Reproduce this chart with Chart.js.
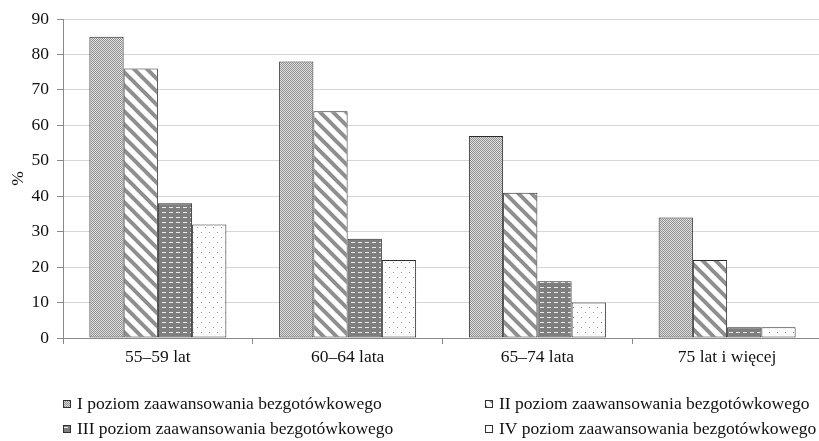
<!DOCTYPE html>
<html>
<head>
<meta charset="utf-8">
<script src="https://cdn.jsdelivr.net/npm/chart.js@4/dist/chart.umd.min.js"></script>
<style>
  html, body { margin: 0; padding: 0; background: #fff; overflow: hidden; width: 819px; height: 441px; }
  #wrap { position: absolute; left: 0; top: 0; width: 830px; height: 441px; }
  canvas { display: block; }
</style>
</head>
<body>
<div id="wrap"><canvas id="c" width="830" height="441"></canvas></div>
<script>
// Age groups on the category axis
const categories = ['55–59 lat', '60–64 lata', '65–74 lata', '75 lat i więcej'];

// Share of respondents (%) per level of cashless-payment adoption
const seriesNames = [
  'I poziom zaawansowania bezgotówkowego',
  'II poziom zaawansowania bezgotówkowego',
  'III poziom zaawansowania bezgotówkowego',
  'IV poziom zaawansowania bezgotówkowego'
];
const level1 = [85, 78, 57, 34];
const level2 = [76, 64, 41, 22];
const level3 = [38, 28, 16, 3];
const level4 = [32, 22, 10, 3];

// Value axis
const yMin = 0;
const yMax = 90;
const yStep = 10;
const yTitle = '%';

const FONT = "'Liberation Serif', 'Times New Roman', serif";
const FONT_SIZE = 17.5;
const TEXT = '#111';
const AXIS = '#8a8a8a';

// --- fill patterns -------------------------------------------------------
function tile(w, h, draw) {
  const c = document.createElement('canvas');
  c.width = w; c.height = h;
  const g = c.getContext('2d');
  draw(g, w, h);
  return document.getElementById('c').getContext('2d').createPattern(c, 'repeat');
}

// fine checker (light grey)
const patChecker = tile(2, 2, (g) => {
  g.fillStyle = '#e2e2e2'; g.fillRect(0, 0, 2, 2);
  g.fillStyle = '#8e8e8e'; g.fillRect(0, 0, 1, 1); g.fillRect(1, 1, 1, 1);
});

// wide diagonal stripes
const patStripes = tile(13, 13, (g, w, h) => {
  g.fillStyle = '#fff'; g.fillRect(0, 0, w, h);
  g.strokeStyle = '#8f8f8f'; g.lineWidth = 4; g.lineCap = 'square';
  for (let k = -1; k <= 1; k++) {
    g.beginPath();
    g.moveTo(-3 + k * 13, -3);
    g.lineTo(16 + k * 13, 16);
    g.stroke();
  }
});

// dark grey with light dashes
const patDashes = tile(7, 5, (g, w, h) => {
  g.fillStyle = '#7e7e7e'; g.fillRect(0, 0, w, h);
  g.fillStyle = '#ececec'; g.fillRect(1, 2, 4, 1);
});

// sparse staggered dots
const patDots = tile(8, 10, (g, w, h) => {
  g.fillStyle = '#fff'; g.fillRect(0, 0, w, h);
  g.fillStyle = '#8a8a8a';
  g.fillRect(1, 2, 1, 1);
  g.fillRect(5, 7, 1, 1);
});

const fills = [patChecker, patStripes, patDashes, patDots];
const values = [level1, level2, level3, level4];

// --- two-column key under the plot --------------------------------------
const keyCols = [63, 485];
const keyRows = [404, 429];
const seriesKey = {
  id: 'seriesKey',
  afterDraw(chart) {
    const ctx = chart.ctx;
    ctx.save();
    ctx.font = `${FONT_SIZE}px ${FONT}`;
    ctx.textBaseline = 'middle';
    ctx.textAlign = 'left';
    chart.data.datasets.forEach((ds, i) => {
      const x = keyCols[i % 2];
      const y = keyRows[Math.floor(i / 2)];
      ctx.fillStyle = ds.backgroundColor;
      ctx.fillRect(x, y - 4, 8, 8);
      ctx.strokeStyle = '#333';
      ctx.lineWidth = 1;
      ctx.strokeRect(x + 0.5, y - 3.5, 7, 7);
      ctx.fillStyle = TEXT;
      ctx.fillText(ds.label, x + 14, y);
    });
    ctx.restore();
  }
};

new Chart(document.getElementById('c'), {
  type: 'bar',
  data: {
    labels: categories,
    datasets: seriesNames.map((name, i) => ({
      label: name,
      data: values[i],
      backgroundColor: fills[i],
      borderColor: '#2a2a2a',
      borderWidth: 1,
      borderSkipped: false
    }))
  },
  options: {
    responsive: false,
    animation: false,
    devicePixelRatio: 1,
    layout: { padding: { top: 19, right: 8, left: 0, bottom: 0 } },
    datasets: { bar: { categoryPercentage: 0.722, barPercentage: 1 } },
    plugins: { legend: { display: false }, tooltip: { enabled: false } },
    scales: {
      x: {
        offset: true,
        grid: { offset: true, drawOnChartArea: false, drawTicks: true, tickLength: 6, tickColor: AXIS },
        border: { color: AXIS, width: 1 },
        ticks: { color: TEXT, font: { family: FONT, size: FONT_SIZE }, padding: 3, maxRotation: 0, autoSkip: false },
        afterFit(s) { s.height = 103; }
      },
      y: {
        min: yMin,
        max: yMax,
        ticks: { stepSize: yStep, color: TEXT, font: { family: FONT, size: FONT_SIZE }, padding: 8 },
        grid: { color: '#d6d6d6', tickColor: AXIS, tickLength: 6 },
        border: { color: AXIS, width: 1 },
        title: { display: true, text: yTitle, color: TEXT, font: { family: FONT, size: FONT_SIZE }, padding: { top: 8, bottom: 0 } },
        afterFit(s) { s.width = 63; }
      }
    }
  },
  plugins: [seriesKey]
});
</script>
</body>
</html>
